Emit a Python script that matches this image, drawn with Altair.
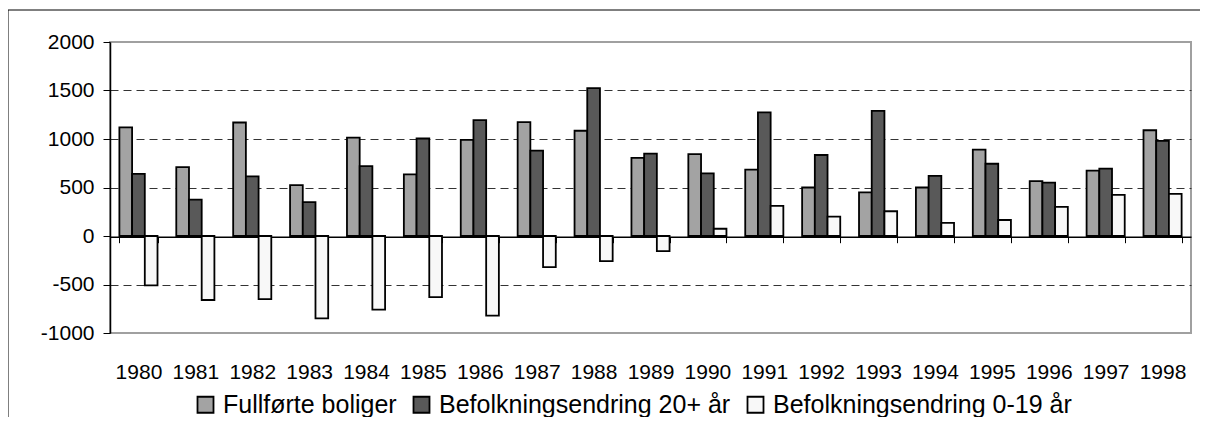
import altair as alt
import pandas as pd

years = [str(y) for y in range(1980, 1999)]
fullforte = [1120, 710, 1170, 525, 1015, 635, 990, 1175, 1085, 805, 845, 685, 500, 450, 500, 890, 565, 675, 1090]
bef20 = [640, 375, 615, 350, 720, 1005, 1195, 880, 1525, 850, 645, 1275, 835, 1290, 620, 745, 550, 695, 980]
bef019 = [-510, -660, -650, -850, -760, -630, -820, -320, -260, -155, 75, 310, 200, 255, 135, 165, 300, 425, 435]
series = ["Fullførte boliger", "Befolkningsendring 20+ år", "Befolkningsendring 0-19 år"]
colors = ["#a3a3a3", "#595959", "#f8f8f8"]
y_ticks = [-1000, -500, 0, 500, 1000, 1500, 2000]

rows = []
for i, yr in enumerate(years):
    for s, vals in zip(series, [fullforte, bef20, bef019]):
        rows.append({"year": yr, "series": s, "value": vals[i]})
df = pd.DataFrame(rows)

FONT = "Liberation Sans"
W, H = 1081, 291

bars = alt.Chart(df).mark_bar(stroke="black", strokeWidth=1.8).encode(
    x=alt.X(
        "year:N",
        sort=years,
        scale=alt.Scale(paddingInner=0.33, paddingOuter=0.165),
        axis=alt.Axis(
            title=None, orient="bottom", offset=-96.3, tickBand="extent",
            tickSize=6, tickColor="black", tickWidth=1,
            domainColor="black", domainWidth=1.5,
            labelAngle=0, labelPadding=119, labelFontSize=21, labelFont=FONT,
            labelColor="black", grid=False,
        ),
    ),
    xOffset=alt.XOffset("series:N", sort=series, scale=alt.Scale(paddingInner=0, paddingOuter=0)),
    y=alt.Y(
        "value:Q",
        scale=alt.Scale(domain=[-1000, 2000], nice=False),
        axis=alt.Axis(
            title=None, values=y_ticks, labelExpr="'' + datum.value",
            domainColor="black", domainWidth=1.5,
            tickColor="black", tickSize=7, labelPadding=9, labelFontSize=21,
            labelFont=FONT, labelColor="black",
            grid=True, gridColor="#333333", gridDash=[8, 5], gridWidth=1,
            gridOpacity={"condition": {"test": "datum.value == 2000 || datum.value == -1000 || datum.value == 0", "value": 0}, "value": 1},
        ),
    ),
    fill=alt.Fill(
        "series:N",
        sort=series,
        scale=alt.Scale(domain=series, range=colors),
        legend=alt.Legend(
            title=None, orient="none", legendX=83, legendY=350, direction="horizontal",
            symbolType="square", symbolSize=256, symbolStrokeColor="black",
            symbolStrokeWidth=1.8, labelFontSize=25, labelFont=FONT, labelColor="black",
            labelOffset=5, columnPadding=12, labelLimit=600,
        ),
    ),
)

frame_df = pd.DataFrame({"k": [0]})
frame_top = alt.Chart(frame_df).mark_rule(color="black", strokeWidth=1).encode(
    x=alt.value(-102), x2=alt.value(1098), y=alt.value(-32)
)
frame_left = alt.Chart(frame_df).mark_rule(color="black", strokeWidth=1).encode(
    x=alt.value(-102), y=alt.value(-32), y2=alt.value(384)
)

chart = alt.layer(bars, frame_top, frame_left).properties(
    width=W, height=H,
    autosize=alt.AutoSizeParams(type="none"),
    padding={"left": 102, "top": 34, "right": 9, "bottom": 84},
).configure_view(stroke="#a0a0a0", strokeWidth=2)

chart.save("out.html", embed_options={"renderer": "svg", "actions": False})
